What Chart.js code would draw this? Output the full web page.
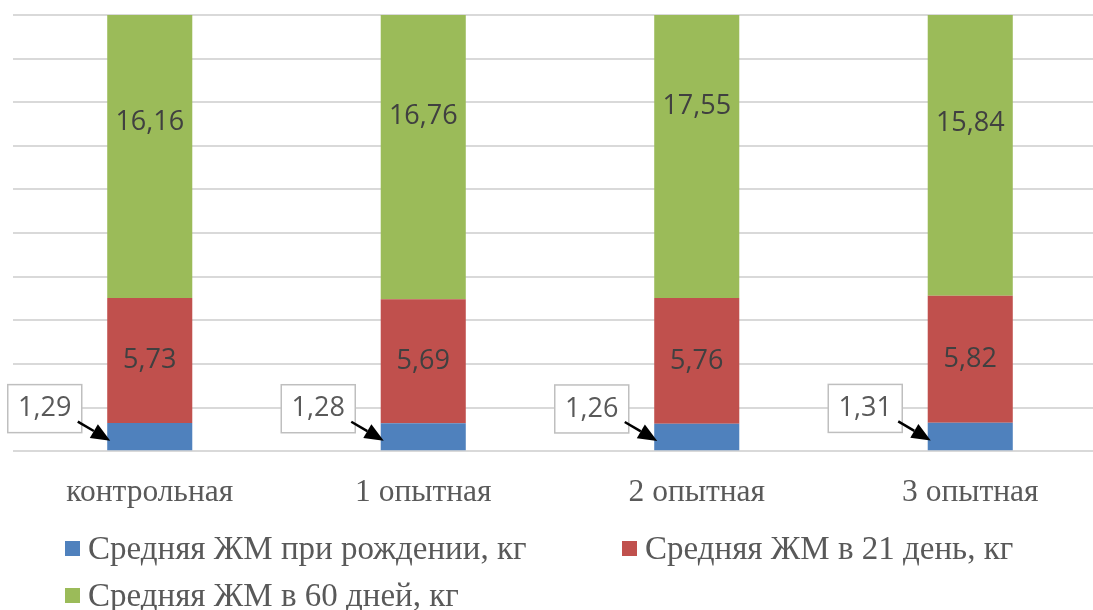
<!DOCTYPE html>
<html lang="ru">
<head>
<meta charset="utf-8">
<script src="https://cdn.jsdelivr.net/npm/chart.js@4.4.1/dist/chart.umd.min.js"></script>
<style>
  html, body { margin: 0; padding: 0; background: #ffffff; overflow: hidden; }
  #wrap { position: relative; width: 1107px; height: 610px; }
</style>
</head>
<body>
<div id="wrap"><canvas id="chart"></canvas></div>
<script>
// Группы животных
const groups = ['контрольная', '1 опытная', '2 опытная', '3 опытная'];

// Средняя живая масса, кг
const birthWeight = [1.29, 1.28, 1.26, 1.31];
const day21Weight = [5.73, 5.69, 5.76, 5.82];
const day60Weight = [16.16, 16.76, 17.55, 15.84];

const seriesNames = [
  'Средняя ЖМ при рождении, кг',
  'Средняя ЖМ в 21 день, кг',
  'Средняя ЖМ в 60 дней, кг'
];

const colors = ['#4f81bd', '#c0504d', '#9bbb59'];

const fmt = v => v.toFixed(2).replace('.', ',');

// Подписи значений: внутри сегментов и выноски для массы при рождении
const valueLabels = {
  id: 'valueLabels',
  afterDatasetsDraw(chart) {
    const ctx = chart.ctx;
    ctx.save();
    ctx.font = '27px "Open Sans", sans-serif';
    ctx.textAlign = 'center';
    ctx.textBaseline = 'middle';
    chart.data.datasets.forEach((ds, di) => {
      const meta = chart.getDatasetMeta(di);
      meta.data.forEach((bar, i) => {
        const text = fmt(ds.data[i]);
        const cy = (bar.y + bar.base) / 2;
        if (di === 0) {
          // выноска слева от столбца
          const bx = bar.x - 105, by = cy - 28, bw = 74, bh = 48;
          ctx.fillStyle = '#ffffff';
          ctx.fillRect(bx - bw / 2, by - bh / 2, bw, bh);
          ctx.strokeStyle = '#bfbfbf';
          ctx.lineWidth = 1.5;
          ctx.strokeRect(bx - bw / 2, by - bh / 2, bw, bh);
          ctx.fillStyle = '#595959';
          ctx.fillText(text, bx, by);
          // стрелка к сегменту
          const x0 = bx + bw / 2 - 4, y0 = by + 13;
          const x1 = bar.x - bar.width / 2 + 3, y1 = cy + 4;
          const ang = Math.atan2(y1 - y0, x1 - x0);
          const head = 19, half = 8;
          const hx = x1 - head * Math.cos(ang), hy = y1 - head * Math.sin(ang);
          ctx.strokeStyle = '#000000';
          ctx.lineWidth = 2.5;
          ctx.beginPath();
          ctx.moveTo(x0, y0);
          ctx.lineTo(hx, hy);
          ctx.stroke();
          ctx.fillStyle = '#000000';
          ctx.beginPath();
          ctx.moveTo(x1, y1);
          ctx.lineTo(hx + half * Math.sin(ang), hy - half * Math.cos(ang));
          ctx.lineTo(hx - half * Math.sin(ang), hy + half * Math.cos(ang));
          ctx.closePath();
          ctx.fill();
        } else {
          ctx.fillStyle = '#404040';
          ctx.fillText(text, bar.x, cy);
        }
      });
    });
    ctx.restore();
  }
};

// Легенда в две строки под осью категорий
const bottomLegend = {
  id: 'bottomLegend',
  afterDraw(chart) {
    const ctx = chart.ctx;
    const spots = [
      { x: 65, y: 549 },
      { x: 622, y: 549 },
      { x: 65, y: 596 }
    ];
    ctx.save();
    ctx.font = '33px "Liberation Serif", "Times New Roman", serif';
    ctx.textAlign = 'left';
    ctx.textBaseline = 'middle';
    chart.data.datasets.forEach((ds, di) => {
      const s = spots[di];
      ctx.fillStyle = ds.backgroundColor;
      ctx.fillRect(s.x, s.y - 8, 15, 15);
      ctx.fillStyle = '#595959';
      ctx.fillText(ds.label, s.x + 23, s.y + 1);
    });
    ctx.restore();
  }
};

const datasets = [birthWeight, day21Weight, day60Weight].map((vals, k) => ({
  label: seriesNames[k],
  data: vals,
  backgroundColor: colors[k],
  borderWidth: 0,
  categoryPercentage: 1,
  barPercentage: 0.311,
  clip: 0
}));

new Chart(document.getElementById('chart'), {
  type: 'bar',
  data: { labels: groups, datasets },
  options: {
    responsive: true,
    maintainAspectRatio: false,
    animation: false,
    layout: { padding: { left: 13, top: 15, right: 0, bottom: 83 } },
    plugins: {
      legend: { display: false },
      tooltip: { enabled: false }
    },
    scales: {
      x: {
        stacked: true,
        grid: { display: false },
        border: { display: false },
        ticks: {
          color: '#595959',
          padding: 15,
          font: { family: '"Liberation Serif", "Times New Roman", serif', size: 31.5 }
        }
      },
      y: {
        stacked: true,
        min: 0,
        max: 20,
        ticks: { display: false, stepSize: 2 },
        grid: { color: '#d9d9d9', lineWidth: 2, drawTicks: false },
        border: { display: false }
      }
    }
  },
  plugins: [valueLabels, bottomLegend]
});
</script>
</body>
</html>
